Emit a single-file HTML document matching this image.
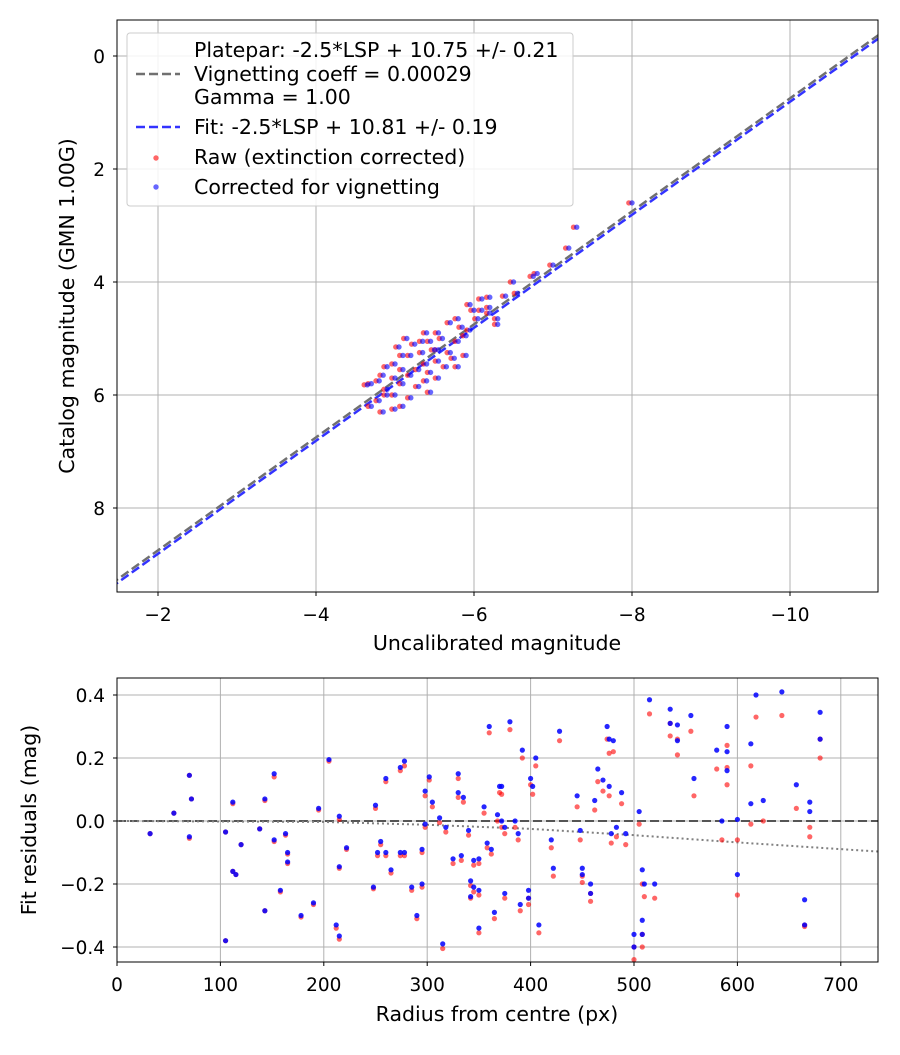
<!DOCTYPE html>
<html><head><meta charset="utf-8"><style>
body{margin:0;background:#fff}
svg text{font-family:"DejaVu Sans","Liberation Sans",sans-serif;fill:#000}
</style></head><body>
<svg id="c" width="900" height="1050" viewBox="0 0 900 1050"></svg>
<script>
// top chart data: uncalibrated magnitude, catalog magnitude
const topUncal=[-8.0,-7.3,-7.2,-7.0,-6.8,-6.75,-6.5,-6.55,-6.4,-6.2,-6.1,-5.95,-6.1,-6.2,-6.3,-6.3,-6.0,-6.05,-5.8,-5.85,-5.7,-5.95,-5.55,-5.6,-5.8,-5.9,-5.4,-5.45,-5.25,-5.5,-5.7,-5.55,-5.35,-5.2,-5.1,-5.4,-5.3,-5.45,-5.55,-5.1,-5.0,-4.9,-5.2,-5.0,-4.85,-4.8,-5.1,-5.3,-4.7,-4.65,-4.9,-5.0,-4.8,-4.7,-4.85,-5.0,-5.1,-5.2,-5.4,-5.45,-5.65,-5.75,-5.9,-5.15,-5.05,-4.9,-5.35,-5.55,-6.2,-5.8];
const topCat=[2.6,3.03,3.4,3.7,3.85,3.9,4.0,4.2,4.25,4.27,4.3,4.4,4.5,4.55,4.65,4.75,4.5,4.65,4.65,4.8,4.72,4.85,4.9,5.0,5.05,4.95,4.9,5.05,5.1,5.2,5.25,5.4,5.25,5.3,5.3,5.45,5.55,5.6,5.7,5.55,5.45,5.5,5.65,5.7,5.65,5.75,5.8,5.85,5.8,5.82,5.9,6.0,6.1,6.2,6.3,6.25,6.2,6.05,5.75,5.95,5.5,5.35,5.3,5.0,5.15,6.0,5.05,5.2,4.45,5.5];
const platepar=10.75, fitOffset=10.81;
// bottom chart data
const radius=[32,55,70,70,72,105,105,112,112,115,120,138,143,143,152,152,158,163,165,165,178,190,195,205,212,215,215,215,222,248,250,252,255,260,260,265,274,274,278,278,285,290,295,295,298,298,302,305,312,315,318,325,330,330,333,335,340,342,342,345,345,350,350,350,355,358,360,362,365,368,370,372,372,375,375,380,385,388,390,392,398,398,400,402,405,408,420,422,428,445,448,450,450,458,458,462,465,470,474,476,476,478,480,483,488,492,500,500,505,508,508,508,510,515,520,535,535,542,542,555,558,580,585,590,590,590,600,600,613,613,618,625,643,657,665,665,670,670,680,680];
const residBlue=[-0.04,0.025,0.145,-0.05,0.07,-0.035,-0.38,0.06,-0.16,-0.17,-0.075,-0.025,0.07,-0.285,-0.06,0.15,-0.22,-0.04,-0.1,-0.13,-0.3,-0.26,0.04,0.195,-0.33,0.015,-0.145,-0.365,-0.085,-0.21,0.05,-0.1,-0.065,0.135,-0.1,-0.155,0.17,-0.1,0.19,-0.1,-0.21,-0.3,-0.2,-0.09,0.095,-0.01,0.14,0.06,0.01,-0.39,-0.02,-0.12,0.15,0.09,-0.11,0.075,-0.03,-0.19,-0.24,-0.125,-0.21,-0.12,-0.22,-0.34,0.045,-0.07,0.3,-0.09,-0.29,0.02,0.11,0.0,0.11,-0.02,-0.23,0.315,0.0,-0.04,-0.265,0.225,-0.22,-0.245,0.135,0.11,0.2,-0.33,-0.06,-0.15,0.285,0.08,-0.03,-0.15,-0.17,-0.2,-0.23,0.065,0.165,0.13,0.3,0.11,0.26,-0.04,0.255,-0.02,0.09,-0.04,-0.36,-0.4,0.03,-0.155,-0.36,-0.315,-0.2,0.385,-0.2,0.355,0.31,0.305,0.255,0.335,0.135,0.225,0.0,0.3,0.22,0.16,0.005,-0.17,0.245,0.055,0.4,0.065,0.41,0.115,-0.25,-0.33,0.06,0.03,0.345,0.26];
const residRed=[-0.04,0.025,0.145,-0.055,0.07,-0.035,-0.38,0.055,-0.16,-0.17,-0.075,-0.025,0.065,-0.285,-0.065,0.14,-0.225,-0.045,-0.105,-0.135,-0.305,-0.265,0.035,0.19,-0.34,0.005,-0.15,-0.375,-0.09,-0.215,0.04,-0.11,-0.075,0.125,-0.11,-0.165,0.16,-0.11,0.175,-0.11,-0.22,-0.31,-0.21,-0.1,0.08,-0.02,0.13,0.045,-0.005,-0.405,-0.035,-0.135,0.135,0.075,-0.125,0.06,-0.045,-0.205,-0.245,-0.14,-0.225,-0.135,-0.235,-0.355,0.025,-0.085,0.28,-0.105,-0.31,0.0,0.09,-0.02,0.085,-0.04,-0.245,0.29,-0.02,-0.06,-0.285,0.2,-0.245,-0.265,0.115,0.085,0.175,-0.355,-0.085,-0.175,0.255,0.045,-0.06,-0.175,-0.195,-0.23,-0.255,0.035,0.125,0.095,0.26,0.08,0.215,-0.07,0.22,-0.05,0.055,-0.075,-0.4,-0.44,-0.01,-0.2,-0.4,-0.36,-0.24,0.34,-0.245,0.31,0.27,0.26,0.21,0.285,0.08,0.165,-0.06,0.24,0.17,0.115,-0.06,-0.235,0.175,-0.01,0.33,0.0,0.335,0.04,-0.33,-0.335,-0.02,-0.05,0.26,0.2];
const vigR=[0,200,300,400,500,600,736];
const vigV=[0,-0.003,-0.012,-0.025,-0.045,-0.068,-0.097];
const topXTicks=[-2,-4,-6,-8,-10], topYTicks=[0,2,4,6,8];
const botXTicks=[0,100,200,300,400,500,600,700], botYTicks=[0.4,0.2,0.0,-0.2,-0.4];

const svg=document.getElementById('c');const NS='http://www.w3.org/2000/svg';
function el(t,a,p){const e=document.createElementNS(NS,t);for(const k in a)e.setAttribute(k,a[k]);(p||svg).appendChild(e);return e;}
const FS=18.5, FL=20.5;
const T={l:117,r:878,t:20,b:592};
const tx=v=>158+(-2-v)*79, ty=v=>56+v*56.5;
const B={l:117,r:878,t:678,b:962};
const bx=v=>117+v*1.034, by=v=>821-v*315;
function clip(id,A){const cp=el('clipPath',{id:id});el('rect',{x:A.l,y:A.t,width:A.r-A.l,height:A.b-A.t},cp);}
clip('ct',T);clip('cb',B);
const gT=el('g',{'clip-path':'url(#ct)'});
topXTicks.forEach(v=>{const l=el('line',{x1:tx(v),x2:tx(v),y1:T.t,y2:T.b,stroke:'#b0b0b0','stroke-width':1},gT);});
topYTicks.forEach(v=>{const l=el('line',{x1:T.l,x2:T.r,y1:ty(v),y2:ty(v),stroke:'#b0b0b0','stroke-width':1},gT);});
const x0=-1.4,x1=-11.2;
let ln=el('line',{x1:tx(x0),y1:ty(x0+platepar),x2:tx(x1),y2:ty(x1+platepar),stroke:'#707070','stroke-width':2.5,'stroke-dasharray':'9,4'},gT);

ln=el('line',{x1:tx(x0),y1:ty(x0+fitOffset),x2:tx(x1),y2:ty(x1+fitOffset),stroke:'#3333ff','stroke-width':2.5,'stroke-dasharray':'9,4'},gT);

topUncal.forEach((u,i)=>{const c=el('circle',{cx:tx(u+0.04),cy:ty(topCat[i]),r:2.7,fill:'#ff0000','fill-opacity':0.6},gT);});
topUncal.forEach((u,i)=>{const c=el('circle',{cx:tx(u),cy:ty(topCat[i]),r:2.7,fill:'#0000ff','fill-opacity':0.6},gT);});
let f=el('rect',{x:T.l,y:T.t,width:T.r-T.l,height:T.b-T.t,fill:'none',stroke:'#000','stroke-width':1});

topXTicks.forEach(v=>{el('line',{x1:tx(v),x2:tx(v),y1:T.b,y2:T.b+4,stroke:'#000'});const t=el('text',{x:tx(v),y:T.b+29,'font-size':FS,'text-anchor':'middle'});t.textContent='\u2212'+Math.abs(v);});
topYTicks.forEach(v=>{el('line',{x1:T.l-4,x2:T.l,y1:ty(v),y2:ty(v),stroke:'#000'});const t=el('text',{x:T.l-12,y:ty(v)+7,'font-size':FS,'text-anchor':'end'});t.textContent=v;});
let t=el('text',{x:497,y:650,'font-size':FL,'text-anchor':'middle'});t.textContent='Uncalibrated magnitude';
t=el('text',{x:74,y:306,'font-size':FL,'text-anchor':'middle',transform:'rotate(-90 74 306)'});t.textContent='Catalog magnitude (GMN 1.00G)';
// legend
const lg=el('g',{});
el('rect',{x:127,y:33,width:446,height:173,rx:3,fill:'#fff','fill-opacity':0.85,stroke:'#ccc'},lg);
el('line',{x1:136,x2:180,y1:74,y2:74,stroke:'#707070','stroke-width':2.5,'stroke-dasharray':'9,4'},lg);
el('line',{x1:136,x2:180,y1:127,y2:127,stroke:'#3333ff','stroke-width':2.5,'stroke-dasharray':'9,4'},lg);
el('circle',{cx:156,cy:158,r:2.7,fill:'#ff0000','fill-opacity':0.6},lg);
el('circle',{cx:156,cy:187,r:2.7,fill:'#0000ff','fill-opacity':0.6},lg);
[['Platepar: -2.5*LSP + 10.75 +/- 0.21',57],['Vignetting coeff = 0.00029',81],['Gamma = 1.00',104],['Fit: -2.5*LSP + 10.81 +/- 0.19',134],['Raw (extinction corrected)',164],['Corrected for vignetting',194]].forEach(([s,y])=>{const e=el('text',{x:194,y:y,'font-size':FL},lg);e.textContent=s;});
// bottom
const gB=el('g',{'clip-path':'url(#cb)'});
botXTicks.forEach(v=>{const l=el('line',{x1:bx(v),x2:bx(v),y1:B.t,y2:B.b,stroke:'#b0b0b0'},gB);});
botYTicks.forEach(v=>{const l=el('line',{x1:B.l,x2:B.r,y1:by(v),y2:by(v),stroke:'#b0b0b0'},gB);});
ln=el('line',{x1:B.l,x2:B.r,y1:by(0),y2:by(0),stroke:'#555','stroke-width':2,'stroke-dasharray':'9,4'},gB);
ln=el('polyline',{points:vigR.map((r,i)=>bx(r)+','+by(vigV[i])).join(' '),fill:'none',stroke:'#808080','stroke-width':2,'stroke-dasharray':'2,3'},gB);
radius.forEach((r,i)=>{const c=el('circle',{cx:bx(r),cy:by(residRed[i]),r:2.6,fill:'#ff0000','fill-opacity':0.6},gB);});
radius.forEach((r,i)=>{const c=el('circle',{cx:bx(r),cy:by(residBlue[i]),r:2.6,fill:'#0000ff','fill-opacity':0.85},gB);});
f=el('rect',{x:B.l,y:B.t,width:B.r-B.l,height:B.b-B.t,fill:'none',stroke:'#000'});
botXTicks.forEach(v=>{el('line',{x1:bx(v),x2:bx(v),y1:B.b,y2:B.b+4,stroke:'#000'});const e=el('text',{x:bx(v),y:B.b+29,'font-size':FS,'text-anchor':'middle'});e.textContent=v;});
botYTicks.forEach(v=>{el('line',{x1:B.l-4,x2:B.l,y1:by(v),y2:by(v),stroke:'#000'});const e=el('text',{x:B.l-12,y:by(v)+7,'font-size':FS,'text-anchor':'end'});e.textContent=(v<0?'\u2212':'')+Math.abs(v).toFixed(1);});
t=el('text',{x:497,y:1021,'font-size':FL,'text-anchor':'middle'});t.textContent='Radius from centre (px)';
t=el('text',{x:36,y:820,'font-size':FL,'text-anchor':'middle',transform:'rotate(-90 36 820)'});t.textContent='Fit residuals (mag)';
</script>
</body></html>
